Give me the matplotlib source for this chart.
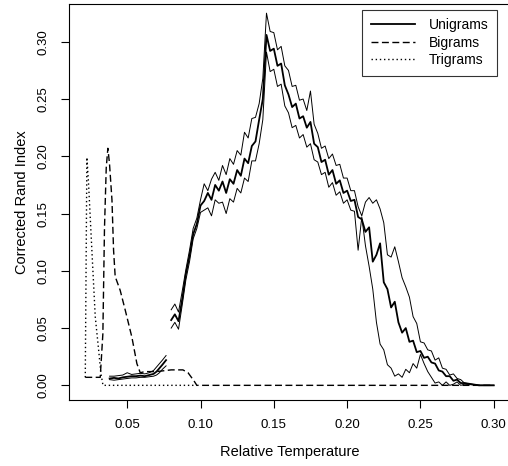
import numpy as np
import matplotlib
matplotlib.use("Agg")
import matplotlib.pyplot as plt

plt.rcParams['font.family'] = ['Liberation Sans', 'DejaVu Sans']

# unigrams, low-temperature piece (mean and the two bounds)
uni_low_x = [0.038, 0.041, 0.044, 0.047, 0.050, 0.053, 0.056, 0.059, 0.062, 0.065,
             0.068, 0.070, 0.072, 0.074, 0.0765]
uni_low_mean = [0.006, 0.0065, 0.006, 0.007, 0.0075, 0.008, 0.008, 0.0085, 0.008, 0.009,
                0.010, 0.012, 0.015, 0.018, 0.022]
uni_low_hi = [0.008, 0.008, 0.0085, 0.009, 0.011, 0.0095, 0.010, 0.0105, 0.010, 0.011,
              0.013, 0.016, 0.019, 0.022, 0.026]
uni_low_lo = [0.005, 0.0045, 0.005, 0.0055, 0.006, 0.0065, 0.0065, 0.007, 0.007, 0.0075,
              0.008, 0.009, 0.011, 0.014, 0.017]

# unigrams, main piece
uni_x = [0.080, 0.0825, 0.085, 0.0875, 0.090, 0.0925, 0.095, 0.0975, 0.100, 0.1025,
         0.105, 0.1075, 0.110, 0.1125, 0.115, 0.1175, 0.120, 0.1225, 0.125, 0.1275,
         0.130, 0.1325, 0.135, 0.1375, 0.140, 0.1425, 0.145, 0.1475, 0.150, 0.1525,
         0.155, 0.1575, 0.160, 0.1625, 0.165, 0.1675, 0.170, 0.1725, 0.175, 0.1775,
         0.180, 0.1825, 0.185, 0.1875, 0.190, 0.1925, 0.195, 0.1975, 0.200, 0.2025,
         0.205, 0.2075, 0.210, 0.2125, 0.215, 0.2175, 0.220, 0.2225, 0.225, 0.2275,
         0.230, 0.2325, 0.235, 0.2375, 0.240, 0.2425, 0.245, 0.2475, 0.250, 0.2525,
         0.255, 0.2575, 0.260, 0.2625, 0.265, 0.2675, 0.270, 0.2725, 0.275, 0.2775,
         0.280, 0.290, 0.300]
uni_mean = [0.057, 0.062, 0.056, 0.075, 0.097, 0.113, 0.132, 0.141, 0.157, 0.161,
            0.168, 0.162, 0.175, 0.170, 0.178, 0.168, 0.180, 0.176, 0.188, 0.183,
            0.198, 0.194, 0.209, 0.213, 0.232, 0.250, 0.306, 0.292, 0.294, 0.279,
            0.281, 0.262, 0.254, 0.243, 0.246, 0.233, 0.235, 0.225, 0.230, 0.211,
            0.208, 0.195, 0.197, 0.184, 0.188, 0.176, 0.179, 0.168, 0.170, 0.161,
            0.162, 0.147, 0.145, 0.134, 0.138, 0.108, 0.114, 0.124, 0.090, 0.084,
            0.068, 0.073, 0.055, 0.046, 0.050, 0.038, 0.039, 0.029, 0.030, 0.024,
            0.025, 0.020, 0.019, 0.013, 0.012, 0.008, 0.008, 0.004, 0.005, 0.002,
            0.002, 0.0, 0.0]
uni_hi = [0.066, 0.071, 0.064, 0.082, 0.101, 0.118, 0.137, 0.146, 0.162, 0.176,
          0.170, 0.180, 0.186, 0.179, 0.192, 0.184, 0.198, 0.193, 0.205, 0.201,
          0.221, 0.216, 0.233, 0.234, 0.246, 0.268, 0.325, 0.309, 0.308, 0.293,
          0.296, 0.279, 0.275, 0.261, 0.262, 0.249, 0.250, 0.240, 0.257, 0.228,
          0.220, 0.207, 0.209, 0.198, 0.202, 0.192, 0.193, 0.181, 0.181, 0.170,
          0.170, 0.156, 0.148, 0.160, 0.164, 0.159, 0.162, 0.154, 0.142, 0.114,
          0.112, 0.121, 0.108, 0.094, 0.086, 0.077, 0.060, 0.054, 0.038, 0.037,
          0.031, 0.030, 0.022, 0.024, 0.015, 0.014, 0.009, 0.010, 0.006, 0.005,
          0.002, 0.0, 0.0]
uni_lo = [0.050, 0.055, 0.049, 0.070, 0.092, 0.108, 0.128, 0.137, 0.151, 0.153,
          0.155, 0.148, 0.162, 0.159, 0.160, 0.150, 0.163, 0.160, 0.172, 0.168,
          0.181, 0.178, 0.196, 0.196, 0.211, 0.232, 0.291, 0.274, 0.276, 0.261,
          0.263, 0.244, 0.238, 0.225, 0.227, 0.216, 0.219, 0.208, 0.211, 0.197,
          0.195, 0.184, 0.186, 0.173, 0.177, 0.166, 0.169, 0.159, 0.162, 0.153,
          0.152, 0.118, 0.147, 0.122, 0.104, 0.084, 0.055, 0.036, 0.031, 0.018,
          0.015, 0.008, 0.010, 0.007, 0.014, 0.011, 0.019, 0.015, 0.027, 0.019,
          0.012, 0.007, 0.002, 0.003, 0.000, 0.003, 0.000, 0.001, 0.003, 0.000,
          0.001, 0.0, 0.0]

bi_x = [0.0214, 0.0316, 0.0334, 0.0345, 0.0357, 0.0368, 0.0379, 0.0396, 0.0407, 0.0418,
        0.0452, 0.0486, 0.0532, 0.0566, 0.0589, 0.062, 0.070, 0.080, 0.088, 0.0915,
        0.0955, 0.0975, 0.300]
bi_y = [0.007, 0.007, 0.045, 0.137, 0.190, 0.207, 0.194, 0.162, 0.118, 0.095,
        0.083, 0.066, 0.042, 0.019, 0.011, 0.012, 0.012, 0.0135, 0.0135, 0.011,
        0.004, 0.0, 0.0]

tri_x = [0.0214, 0.0225, 0.0236, 0.0259, 0.0282, 0.0305, 0.0321, 0.0335, 0.0975]
tri_y = [0.007, 0.199, 0.177, 0.118, 0.060, 0.031, 0.010, 0.0, 0.0]

fig = plt.figure(figsize=(5.08, 4.66), dpi=100)
ax = fig.add_axes([69/508, 66/466, 441/508, 396/466])

ax.plot(uni_low_x, uni_low_hi, color='black', lw=0.7)
ax.plot(uni_low_x, uni_low_lo, color='black', lw=0.7)
ax.plot(uni_low_x, uni_low_mean, color='black', lw=1.3)
ax.plot(uni_x, uni_hi, color='black', lw=0.7)
ax.plot(uni_x, uni_lo, color='black', lw=0.7)
ax.plot(uni_x, uni_mean, color='black', lw=1.3, label='Unigrams')
ax.plot(bi_x, bi_y, color='black', lw=1.0, ls=(0, (5, 2.5)), label='Bigrams')
ax.plot(tri_x, tri_y, color='black', lw=1.0, ls=(0, (1, 2)), label='Trigrams')

ax.set_xlim(0.0103, 0.3111)
ax.set_ylim(-0.0128, 0.333)
ax.set_xticks([0.05, 0.10, 0.15, 0.20, 0.25, 0.30])
ax.set_xticklabels(['0.05', '0.10', '0.15', '0.20', '0.25', '0.30'])
ax.set_yticks([0.0, 0.05, 0.10, 0.15, 0.20, 0.25, 0.30])
ax.set_yticklabels(['0.00', '0.05', '0.10', '0.15', '0.20', '0.25', '0.30'],
                   rotation=90, va='center')
ax.tick_params(direction='out', length=6, width=0.8, labelsize=9.5, pad=8)
for s in ax.spines.values():
    s.set_linewidth(0.8)

ax.set_xlabel('Relative Temperature', fontsize=10.5, labelpad=10)
ax.set_ylabel('Corrected Rand Index', fontsize=10.5, labelpad=6)

leg = ax.legend(loc='upper right', bbox_to_anchor=(497/508, 1 - 10/466),
                bbox_transform=fig.transFigure, frameon=True, fancybox=False,
                edgecolor='black', fontsize=10, handlelength=3.2,
                borderpad=0.6, labelspacing=0.25, handletextpad=1.0,
                borderaxespad=0)
leg.get_frame().set_linewidth(0.8)

fig.savefig('out.png', dpi=100)
